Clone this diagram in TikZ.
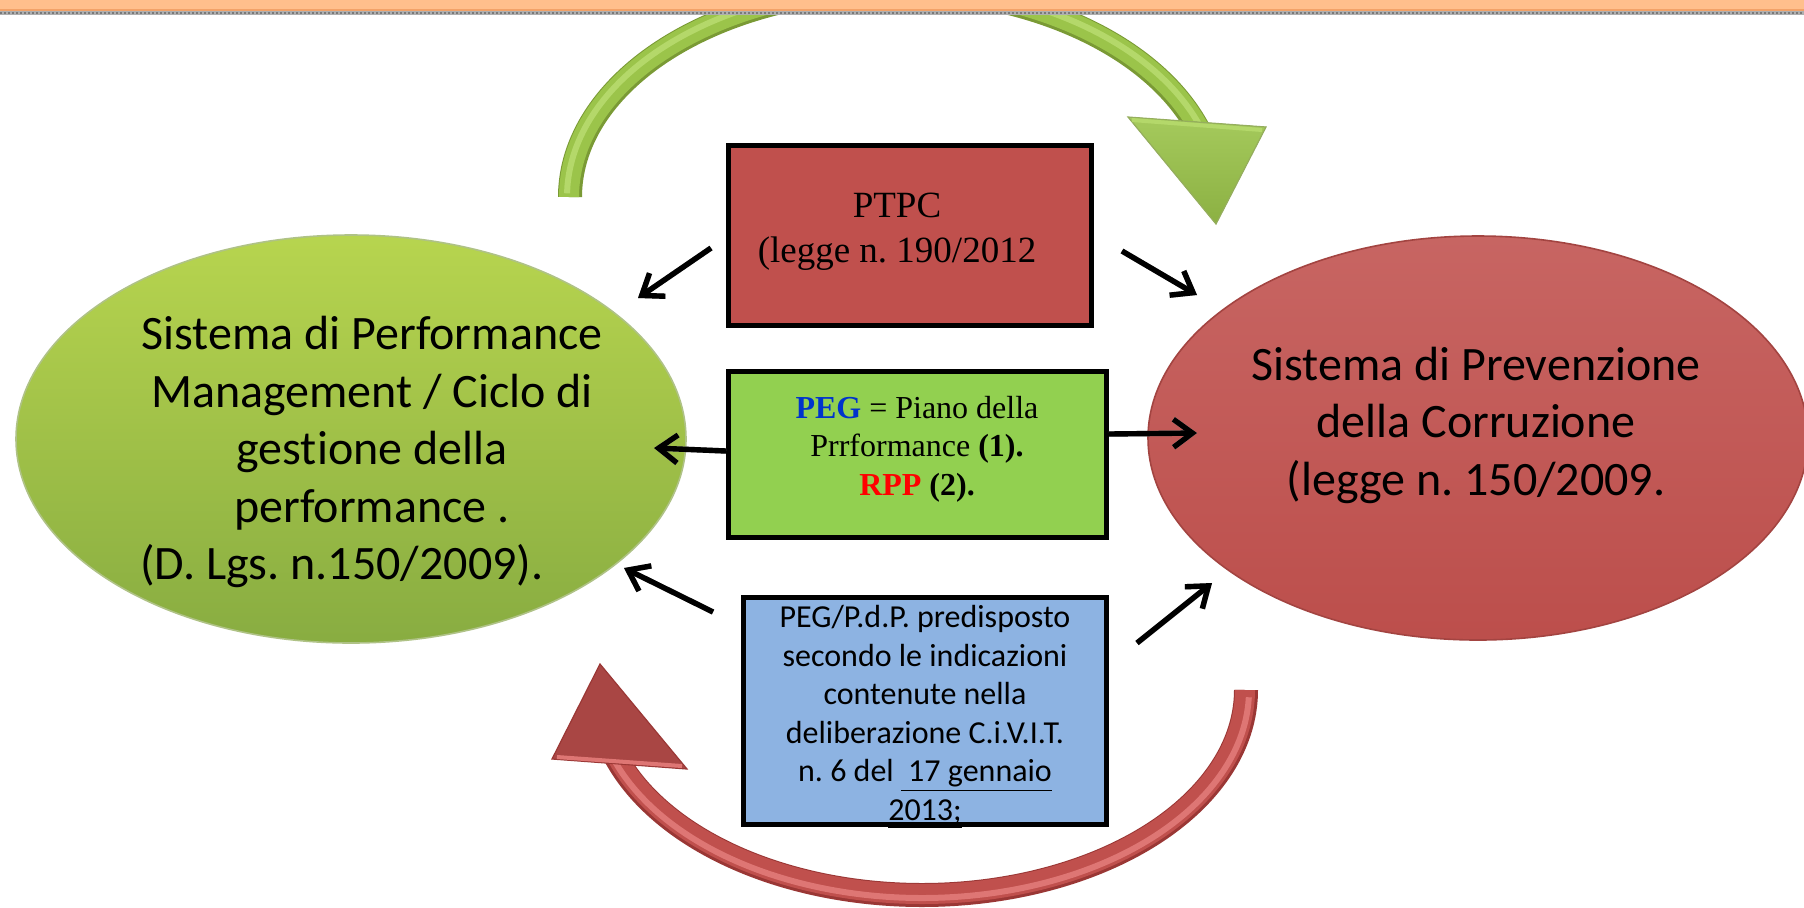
\documentclass[tikz,border=0pt]{standalone}
\usepackage{fontspec}
\setmainfont{Liberation Serif}
\newfontfamily\calibri[RawFeature={-liga;-clig;-dlig}]{Carlito}
\usetikzlibrary{arrows.meta,shapes.geometric}
\frenchspacing

\definecolor{band}{HTML}{FFBF8C}
\definecolor{bandedge}{HTML}{F2A268}
\definecolor{rulegray}{HTML}{7A7A7A}
\definecolor{olive}{HTML}{9BC44A}
\definecolor{olivedark}{HTML}{7A9A35}
\definecolor{olivelight}{HTML}{B4D86A}
\definecolor{brick}{HTML}{C0504D}
\definecolor{brickdark}{HTML}{9A3735}
\definecolor{bricklight}{HTML}{DE7674}
\definecolor{lime}{HTML}{92D050}
\definecolor{sky}{HTML}{8DB3E2}
\definecolor{pegblue}{HTML}{0033CC}

\begin{document}
\begin{tikzpicture}[x=0.5pt,y=-0.5pt,
  boxstyle/.style={draw=black, line width=2.5pt, rectangle, inner sep=0pt},
  blob/.style={ellipse, inner sep=0pt, line width=0.8pt},
  sanstext/.style={font=\calibri\fontsize{24pt}{28.75pt}\selectfont, align=center, inner sep=0pt},
  link/.style={line width=2.7pt, -{Straight Barb[length=9.5pt,width=14pt]}},
  linkshade/.style={link, draw=black!35, shift={(-2,3)}},
]
\useasboundingbox (0,0) rectangle (1804,907);
\fill[white] (0,0) rectangle (1804,907);

% green curved arrow over the top
\draw[line width=12pt, olivedark]
  plot[domain=180:18, samples=80, smooth, variable=\t] ({893+323*cos(\t)},{197-208*sin(\t)});
\draw[line width=10pt, olive]
  plot[domain=180:18, samples=80, smooth, variable=\t] ({893+324*cos(\t)},{197-209*sin(\t)});
\draw[line width=3pt, olivelight]
  plot[domain=179:20, samples=80, smooth, variable=\t] ({893+326*cos(\t)},{197-211*sin(\t)});
\filldraw[draw=olivedark!80, line width=0.6pt, top color=olive!90!white, bottom color=olive!90!black]
  (1128,117) -- (1266,127) -- (1216,224) -- cycle;
\draw[olivelight, line width=2pt] (1132,120) -- (1262,130);

% red curved arrow under the bottom
\draw[line width=12pt, brickdark]
  plot[domain=0:162, samples=80, smooth, variable=\t] ({922+324*cos(\t)},{690+205*sin(\t)});
\draw[line width=10pt, brick]
  plot[domain=0:162, samples=80, smooth, variable=\t] ({922+323*cos(\t)},{690+204*sin(\t)});
\draw[line width=3pt, bricklight]
  plot[domain=2:160, samples=80, smooth, variable=\t] ({922+327*cos(\t)},{690+208*sin(\t)});
\filldraw[draw=brickdark, line width=0.6pt, fill=brick!88!black]
  (600,664) -- (552,759) -- (687,769) -- cycle;
\draw[bricklight, line width=2pt] (557,757) -- (682,766);

% header band
\fill[band] (0,0) rectangle (1804,10);
\draw[bandedge, line width=1pt] (0,9.5) -- (1804,9.5);
\draw[rulegray!60, line width=2pt] (0,13) -- (1804,13);
\draw[rulegray, line width=1.2pt, dash pattern=on 1pt off 1pt] (0,13) -- (1804,13);

% the two systems
\node[blob, minimum width=335pt, minimum height=204pt, draw=olivedark!60,
      top color=olive!80!yellow!90!white, bottom color=olive!88!black] (perf) at (351,439) {};
\node[sanstext] (perftext) at (372,452)
  {Sistema di Performance\\Management / Ciclo di\\gestione della\\performance .\\(D. Lgs. n.150/2009).\rule{30pt}{0pt}};

\node[blob, minimum width=330pt, minimum height=202pt, draw=brick!85!black,
      top color=brick!88!white, bottom color=brick!98!black] (prev) at (1478,438) {};
\node[sanstext] (prevtext) at (1476,425)
  {Sistema di Prevenzione\\della Corruzione\\(legge n. 150/2009.};

% the three central boxes
\node[boxstyle, fill=brick, minimum width=181.5pt, minimum height=90pt] (ptpc) at (910,235.5) {};
\node[align=center, inner sep=0pt, font=\fontsize{18.5pt}{22.5pt}\selectfont] (ptpctext) at (897,232)
  {PTPC\\(legge n. 190/2012};

\node[boxstyle, fill=lime, minimum width=189pt, minimum height=83pt] (peg) at (917.5,454.5) {};
\node[align=center, inner sep=0pt, font=\fontsize{16pt}{19.25pt}\selectfont] (pegtext) at (917,449)
  {\textbf{\textcolor{pegblue}{PEG}} = Piano della\\Prrformance \textbf{(1).}\\\textbf{\textcolor{red}{RPP}} \textbf{(2).}};

\node[boxstyle, fill=sky, minimum width=181.5pt, minimum height=113.5pt] (civit) at (925,711) {};
\node[align=center, inner sep=0pt, font=\calibri\fontsize{16pt}{19.25pt}\selectfont] (civittext) at (925,713)
  {PEG/P.d.P. predisposto\\secondo le indicazioni\\contenute nella\\deliberazione C.i.V.I.T.\\n. 6 del \smash{\underline{\ 17 gennaio}}\\\smash{\underline{2013;}}};

% arrow end points
\coordinate (a1s) at (711,248);  \coordinate (a1e) at (638,298);
\coordinate (a2s) at (1122,251); \coordinate (a2e) at (1197,295);
\coordinate (a3s) at (726,451);  \coordinate (a3e) at (654,448);
\coordinate (a4s) at (1109,434); \coordinate (a4e) at (1197,433);
\coordinate (a5s) at (713,612);  \coordinate (a5e) at (624,568);
\coordinate (a6s) at (1137,643); \coordinate (a6e) at (1212,583);

\foreach \s/\e in {a1s/a1e,a2s/a2e,a3s/a3e,a4s/a4e,a5s/a5e,a6s/a6e}{
  \draw[linkshade] (\s) -- (\e);
  \draw[link] (\s) -- (\e);
}
\end{tikzpicture}
\end{document}
